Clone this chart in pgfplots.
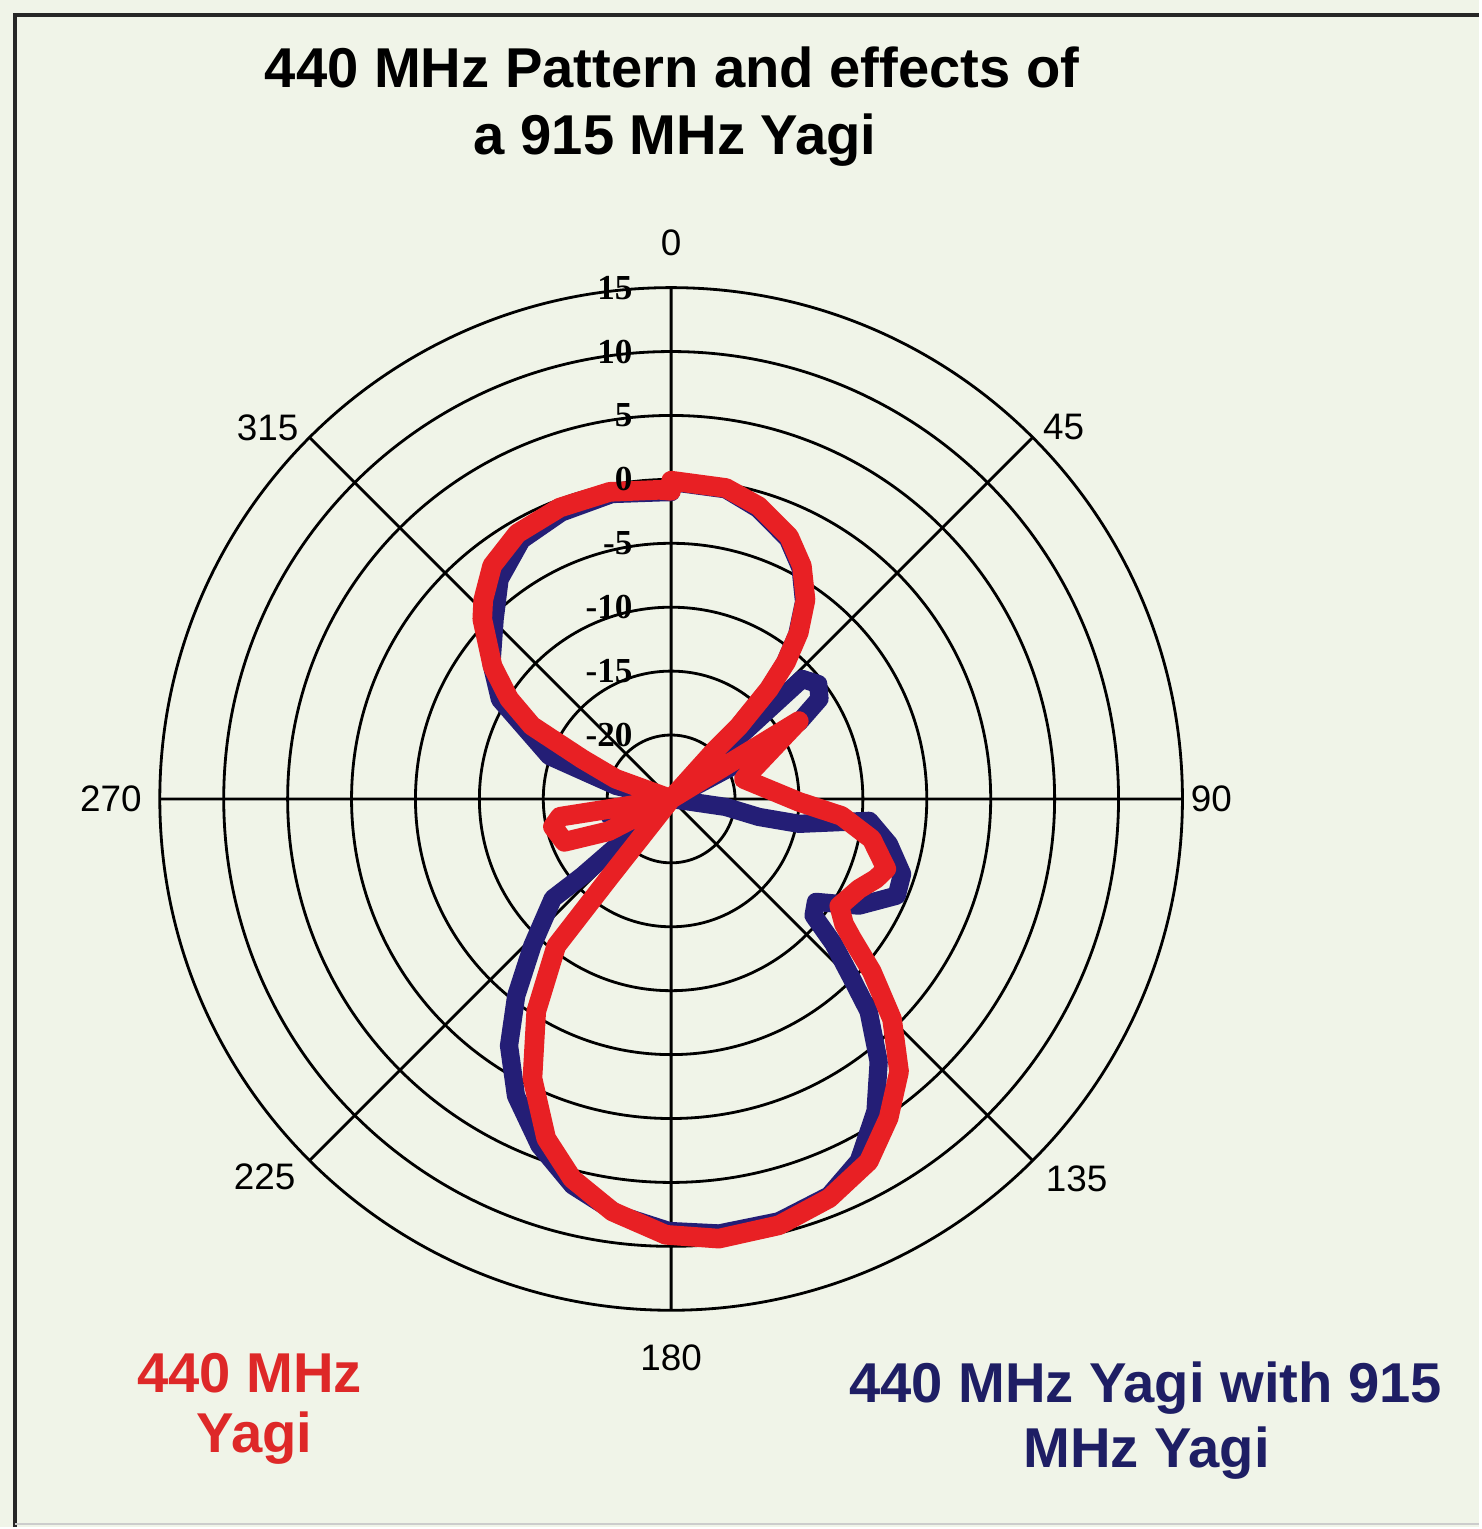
\documentclass[border=0pt]{standalone}
\usepackage{fontspec}
\setmainfont{Liberation Sans}
\newfontfamily\serifb{Liberation Serif}
\usepackage{pgfplots}
\usepackage{pgfplotstable}
\usepgfplotslibrary{polar}
\pgfplotsset{compat=1.18}
\definecolor{bg}{RGB}{240,244,232}
\definecolor{cred}{RGB}{232,32,36}
\definecolor{cblue}{RGB}{36,30,118}
\definecolor{tred}{RGB}{222,40,40}
\definecolor{tblue}{RGB}{30,30,100}

% compass angle (deg, clockwise from north), level (dB)
\pgfplotstableread{
a d
0 -0.1
10 -0.3
16.7 -1.1
24.2 -2.5
29.3 -4.1
34 -6.2
37.5 -8.6
40 -11.0
41.7 -13.5
43 -17.2
42 -19.8
45 -25
58.6 -19.1
58.6 -13.3
74.7 -19.1
91.3 -15
95.7 -11.6
101.3 -9.0
108 -7.3
111.3 -7.8
115.6 -8.7
122.5 -9.4
125.9 -8.3
127.7 -7.1
130.7 -4.3
134.9 -0.6
140.1 2.8
145.7 5.2
151.4 7.3
158.4 8.6
165.8 9.4
173.8 9.6
180.7 9.1
188.1 7.6
194.6 5.7
200.2 3.3
206.4 -0.6
212.4 -5.3
218 -10.4
218.2 -17.0
220 -25
242.7 -19.5
248.1 -16
256.8 -15.5
260.9 -16.2
260.8 -20.1
270 -25
290 -20.4
294.2 -17.4
297.7 -12.7
301.7 -10.1
306.6 -7.6
313.6 -4.6
316.6 -3.6
322.5 -2.0
329.9 -1.0
339.1 -0.6
348.7 -0.5
357.8 -0.8
360 -0.9
}\redtab

\pgfplotstableread{
a d
0 -0.2
10 -0.4
16.7 -1.3
24.2 -2.7
29.3 -4.3
34 -6.4
37.5 -8.8
40 -11.2
41.7 -13.6
43 -17.5
45 -25
47.5 -11.1
52 -10.4
56 -11.0
59 -13.3
62 -19
70 -25
98.3 -20.7
101.6 -18
101 -14.8
96.3 -9.4
101.7 -7.6
108 -6.0
113.2 -5.8
119.6 -8.1
125.4 -11.1
129.3 -10.6
131.7 -8.0
134.8 -5.1
137.1 -2.3
141.7 1.2
146.8 4.2
152.6 6.9
158.3 8.4
165.7 9.1
173.7 9.2
180.3 8.8
187.1 7.8
194.3 6.2
200.8 4.0
207.6 1.2
213.3 -1.9
218.2 -5.4
223.4 -9.2
229.9 -12.9
229.1 -15.8
230 -25
248 -21
255 -20
262 -22.5
270 -25
283.3 -20.6
289.4 -14.9
300.2 -9.5
307 -7.4
315.5 -5.3
322 -3.2
330 -1.6
339 -1.0
349 -0.7
358 -1.0
360 -1.0
}\bluetab

\begin{document}
\begin{tikzpicture}
\fill[bg] (0,0) rectangle (148.1mm,152.9mm);
\draw[black!85, line width=0.4mm] (1.5mm,0mm) -- (1.5mm,151.4mm) -- (148.1mm,151.4mm);
\draw[black!20, line width=0.2mm] (1.5mm,0.3mm) -- (148.1mm,0.3mm);

\begin{polaraxis}[
  at={(67.2mm,72.9mm)}, anchor=center,
  scale only axis, width=102.4mm, height=102.4mm,
  xmin=0, xmax=360, ymin=0, ymax=40,
  xtick={0,45,...,315}, xticklabels={},
  ytick={5,10,...,35}, yticklabels={},
  grid=major,
  major grid style={black, line width=0.8pt},
  axis line style={black, line width=0.8pt},
  major tick length=0pt,
  clip=false,
]
\addplot[cblue, line width=5.2pt, line join=round, line cap=round]
  table[x expr=90-\thisrow{a}, y expr=\thisrow{d}+25] {\bluetab};
\addplot[cred, line width=5.6pt, line join=round, line cap=round]
  table[x expr=90-\thisrow{a}, y expr=\thisrow{d}+25] {\redtab};
\end{polaraxis}

% radial labels
\begin{scope}[every node/.style={anchor=east, inner sep=0pt, font=\serifb\bfseries\fontsize{10}{12}\selectfont}]
\node at (63.4mm,124.1mm) {15};
\node at (63.4mm,117.7mm) {10};
\node at (63.4mm,111.3mm) {5};
\node at (63.4mm,104.9mm) {0};
\node at (63.4mm,98.5mm) {-5};
\node at (63.4mm,92.1mm) {-10};
\node at (63.4mm,85.7mm) {-15};
\node at (63.4mm,79.3mm) {-20};
\end{scope}

% angle labels
\begin{scope}[every node/.style={inner sep=0pt, font=\fontsize{10.5}{12}\selectfont}]
\node at (67.2mm,128.6mm) {0};
\node at (106.5mm,110.1mm) {45};
\node at (121.3mm,72.9mm) {90};
\node at (107.8mm,34.9mm) {135};
\node at (67.2mm,16.9mm) {180};
\node at (26.5mm,35.1mm) {225};
\node at (11.1mm,72.9mm) {270};
\node at (26.8mm,110.1mm) {315};
\end{scope}

% title
\begin{scope}[every node/.style={inner sep=0pt, font=\bfseries\fontsize{16}{19}\selectfont}]
\node at (67.3mm,146.1mm) {440 MHz Pattern and effects of};
\node at (67.6mm,138.9mm) {a 915 MHz Yagi};
\node[text=tred] at (25.0mm,15.4mm) {440 MHz};
\node[text=tred] at (25.5mm,8.9mm) {Yagi};
\node[text=tblue] at (114.7mm,13.9mm) {440 MHz Yagi with 915};
\node[text=tblue] at (114.8mm,7.4mm) {MHz Yagi};
\end{scope}
\end{tikzpicture}
\end{document}
